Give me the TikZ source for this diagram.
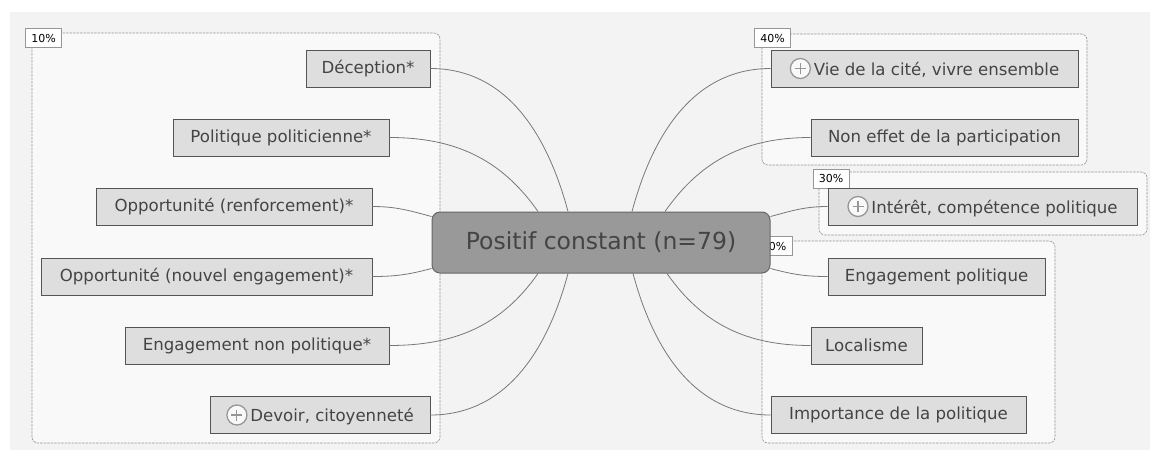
\documentclass[tikz,border=0pt]{standalone}
\usepackage{fontspec}
\setmainfont{DejaVu Sans}
\usetikzlibrary{calc}
\definecolor{mapbg}{RGB}{243,243,243}
\definecolor{grpfill}{RGB}{249,249,249}
\definecolor{grpline}{RGB}{150,150,150}
\definecolor{leaffill}{RGB}{222,222,222}
\definecolor{leafline}{RGB}{85,85,85}
\definecolor{hubfill}{RGB}{153,153,153}
\definecolor{hubline}{RGB}{102,102,102}
\definecolor{inktext}{RGB}{68,68,68}
\definecolor{linkgray}{RGB}{120,120,120}
\newcommand{\plusicon}{\tikz[baseline=-0.4em]{
  \draw[grpline,fill=grpfill,line width=1.3pt] (0,0) circle (10pt);
  \draw[grpline,line width=1.1pt] (-5.5pt,0) -- (5.5pt,0) (0,-5.5pt) -- (0,5.5pt);}}

\begin{document}
\begin{tikzpicture}[x=1pt,y=1pt,
  leaf/.style={draw=leafline,fill=leaffill,line width=0.9pt,minimum height=37pt,
    inner sep=0pt,font=\fontsize{16.6}{18}\selectfont,text=inktext},
  hubbox/.style={draw=hubline,fill=hubfill,line width=1pt,rounded corners=8pt,
    minimum width=338pt,minimum height=61pt,inner sep=0pt,
    font=\fontsize{23.5}{26}\selectfont,text=inktext},
  grp/.style={draw=grpline,fill=grpfill,dash pattern=on 2.5pt off 1pt,
    line width=0.6pt,rounded corners=6pt},
  pct/.style={draw=grpline,fill=white,line width=0.6pt,inner sep=0pt,
    minimum width=36pt,minimum height=19pt,font=\fontsize{11}{13}\selectfont},
  link/.style={draw=linkgray,line width=0.8pt}]

  % Canvas (pixel units, y counted downwards as negative).
  \useasboundingbox (0,0) rectangle (1150,-450);
  \fill[mapbg] (10,-12) rectangle (1150,-450);

  % Groups with their shares.
  \draw[grp] (32,-33) rectangle (440,-443);
  \draw[grp] (762,-34) rectangle (1087,-165);
  \draw[grp] (819,-172) rectangle (1147,-235);
  \draw[grp] (762,-241) rectangle (1055,-443);
  \node[pct] (p10) at (43.5,-38) {10\%};
  \node[pct] (p40) at (772.5,-38) {40\%};
  \node[pct] (p30) at (831,-178.5) {30\%};
  \node[pct] (p20) at (774,-246) {20\%};

  % Central topic.
  \node[hubbox] (hub) at (601,-242.5) {Positif constant (n=79)};

  % Left branches.
  \node[leaf,minimum width=124pt] (dec) at (368,-68.5) {Déception*};
  \node[leaf,minimum width=216pt] (pol) at (281,-137.5) {Politique politicienne*};
  \node[leaf,minimum width=276pt] (oren) at (234,-206.5) {Opportunité (renforcement)*};
  \node[leaf,minimum width=331pt] (onou) at (206.5,-276.5) {Opportunité (nouvel engagement)*};
  \node[leaf,minimum width=264pt] (engn) at (257,-345.5) {Engagement non politique*};
  \node[leaf,minimum width=220pt] (dev) at (320,-415) {\plusicon\,Devoir, citoyenneté};

  % Right branches.
  \node[leaf,minimum width=307pt] (vie) at (924.5,-68.5) {\plusicon\,Vie de la cité, vivre ensemble};
  \node[leaf,minimum width=267pt] (neff) at (944.5,-137.5) {Non effet de la participation};
  \node[leaf,minimum width=309pt] (inte) at (982.5,-206.5) {\plusicon\,Intérêt, compétence politique};
  \node[leaf,minimum width=217pt] (engp) at (936.5,-276.5) {Engagement politique};
  \node[leaf,minimum width=111pt] (loc) at (866.5,-345.5) {Localisme};
  \node[leaf,minimum width=255pt] (imp) at (898.5,-415) {Importance de la politique};

  % Links to the central topic.
  \draw[link] (dec.east) to[out=0,in=105] ([xshift=-33pt]hub.north);
  \draw[link] (pol.east) to[out=0,in=125] ([xshift=-63pt]hub.north);
  \draw[link] (oren.east) to[out=0,in=165] ([yshift=26pt]hub.west);
  \draw[link] (onou.east) to[out=0,in=195] ([yshift=-26pt]hub.west);
  \draw[link] (engn.east) to[out=0,in=235] ([xshift=-63pt]hub.south);
  \draw[link] (dev.east) to[out=0,in=255] ([xshift=-33pt]hub.south);
  \draw[link] (vie.west) to[out=180,in=75] ([xshift=31pt]hub.north);
  \draw[link] (neff.west) to[out=180,in=55] ([xshift=64pt]hub.north);
  \draw[link] (inte.west) to[out=180,in=15] ([yshift=26pt]hub.east);
  \draw[link] (engp.west) to[out=180,in=-15] ([yshift=-26pt]hub.east);
  \draw[link] (loc.west) to[out=180,in=-55] ([xshift=66pt]hub.south);
  \draw[link] (imp.west) to[out=180,in=-75] ([xshift=32pt]hub.south);
\end{tikzpicture}
\end{document}
